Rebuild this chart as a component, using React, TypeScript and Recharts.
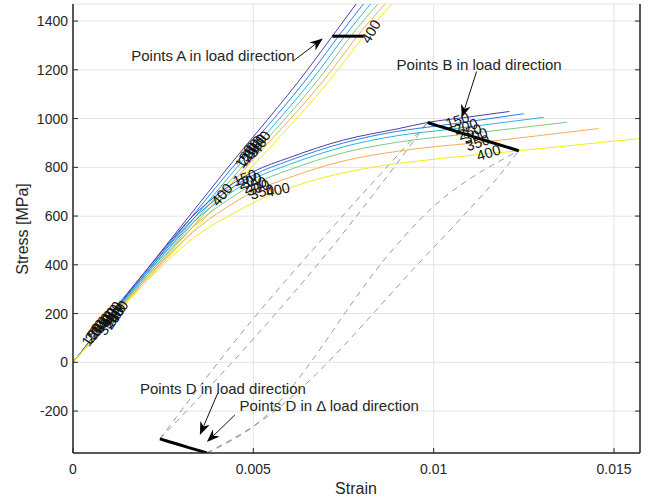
import { ComposedChart, Line, Scatter, XAxis, YAxis, CartesianGrid, ReferenceLine, Customized } from 'recharts'

const W = 649
const H = 499

const temps = ['150', '200', '250', '300', '350', '400']
const curveColors = ['#4a3fa6', '#2b7ef0', '#2ab6d6', '#80c97e', '#f6ad57', '#f2ee12']

const xTicks = [0, 0.005, 0.01, 0.015]
const yTicks = [-200, 0, 200, 400, 600, 800, 1000, 1200, 1400]

// steep branch: strain reached at each stress level, one row per temperature
const steepStress = [0, 400, 800, 1200, 1338, 1470]
const steepStrain = [
  [0, 0.00215, 0.0043, 0.0065, 0.00719, 0.00785],
  [0, 0.0022, 0.00442, 0.00667, 0.00736, 0.00805],
  [0, 0.00226, 0.00455, 0.00684, 0.00753, 0.00825],
  [0, 0.00232, 0.00468, 0.00701, 0.0077, 0.00845],
  [0, 0.00238, 0.0048, 0.00718, 0.00788, 0.00865],
  [0, 0.00245, 0.00495, 0.00735, 0.00806, 0.00885],
]

// stress-strain curves, one row per temperature
const curveStrain = [
  [0, 0.002, 0.0035, 0.0045, 0.005, 0.006, 0.0075, 0.009, 0.00983, 0.011, 0.0121],
  [0, 0.002, 0.0035, 0.0045, 0.005, 0.006, 0.0075, 0.009, 0.01012, 0.0125],
  [0, 0.002, 0.0035, 0.0045, 0.005, 0.006, 0.0075, 0.009, 0.01044, 0.01305],
  [0, 0.002, 0.0035, 0.0045, 0.005, 0.006, 0.0075, 0.009, 0.01087, 0.0137],
  [0, 0.002, 0.0035, 0.0045, 0.005, 0.006, 0.0075, 0.009, 0.01152, 0.01457],
  [0, 0.002, 0.0035, 0.0045, 0.005, 0.006, 0.007, 0.0085, 0.01, 0.01236, 0.01572],
]
const curveStress = [
  [0, 372, 625, 740, 782, 840, 912, 958, 984, 1007, 1029],
  [0, 362, 612, 725, 768, 828, 900, 948, 970, 1020],
  [0, 354, 597, 708, 752, 812, 884, 930, 956, 1005],
  [0, 345, 578, 686, 730, 790, 860, 903, 936, 985],
  [0, 336, 556, 658, 700, 758, 826, 866, 906, 959],
  [0, 326, 528, 615, 655, 715, 760, 805, 833, 868, 918],
]

// points A, B and D
const aStrain = [0.00719, 0.00736, 0.00753, 0.0077, 0.00788, 0.00806]
const aStress = [1338, 1338, 1338, 1338, 1338, 1338]
const bStrain = [0.00983, 0.01012, 0.01044, 0.01087, 0.01152, 0.01236]
const bStress = [984, 970, 956, 936, 906, 868]
const dStrain = [0.00241, 0.00267, 0.00293, 0.00319, 0.00345, 0.00371]
const dStress = [-314, -326, -337, -349, -360, -372]

// hysteresis branches D -> B for 150 and 400 (two variants each)
const loop150aStrain = [0.00241, 0.004903, 0.006648, 0.00983]
const loop150aStress = [-314, 162, 462, 984]
const loop150bStrain = [0.00241, 0.004903, 0.007119, 0.00983]
const loop150bStress = [-314, 80, 462, 984]
const loop400aStrain = [0.00371, 0.004986, 0.008864, 0.009612, 0.01236]
const loop400aStress = [-372, -265, 462, 585, 868]
const loop400bStrain = [0.00371, 0.005263, 0.009806, 0.01072, 0.012022, 0.01236]
const loop400bStress = [-372, -236, 441, 585, 803, 868]

// temperature tags written along the curves
const tagText = [
  '150', '200', '250', '300', '350', '400', '150', '200', '250', '300', '350', '400',
  '150', '200', '250', '300', '350', '400',
  '400', '150', '200', '250', '300', '350', '400',
  '150', '200', '250', '300', '350', '400',
  '400',
]
const tagStrain = [
  0.000526, 0.00061, 0.000693, 0.000776, 0.000859, 0.00094, 0.00102, 0.00108, 0.00114, 0.00119, 0.00097, 0.00125,
  0.004764, 0.004847, 0.00493, 0.005014, 0.005097, 0.005208,
  0.00413, 0.00476, 0.0049, 0.00504, 0.00512, 0.00524, 0.00568,
  0.01066, 0.01089, 0.011, 0.01116, 0.01122, 0.01152,
  0.00826,
]
const tagStress = [
  113, 129, 142, 154, 166, 179, 191, 203, 183, 195, 158, 207,
  844, 856, 869, 881, 889, 901,
  688, 757, 745, 728, 716, 700, 708,
  992, 967, 946, 930, 901, 860,
  1357,
]
const tagAngle = [
  -55, -55, -55, -55, -55, -55, -55, -55, -55, -55, -55, -55,
  -60, -60, -60, -60, -60, -60,
  -50, -20, -20, -20, -20, -15, -12,
  -18, -18, -18, -18, -18, -18,
  -60,
]

const noteText = [
  'Points A in load direction',
  'Points B in load direction',
  'Points D in load direction',
  'Points D in \u0394 load direction',
]
const noteStrain = [0.00388, 0.01126, 0.004155, 0.007105]
const noteStress = [1259, 1222, -109, -179]

// arrows: tail then tip
const arrowSegments = [
  [{ x: 0.006094, y: 1235 }, { x: 0.006925, y: 1328 }],
  [{ x: 0.01119, y: 1193 }, { x: 0.01078, y: 1004 }],
  [{ x: 0.004017, y: -125 }, { x: 0.003518, y: -298 }],
  [{ x: 0.004487, y: -216 }, { x: 0.003712, y: -327 }],
]

const zip = (xs: number[], ys: number[]) => xs.map((x, i) => ({ x, y: ys[i] }))

const steepSeries = steepStrain.map((row) => zip(row, steepStress))
const curveSeries = curveStrain.map((row, i) => zip(row, curveStress[i]))
const loopSeries = [
  zip(loop150aStrain, loop150aStress),
  zip(loop150bStrain, loop150bStress),
  zip(loop400aStrain, loop400aStress),
  zip(loop400bStrain, loop400bStress),
]
const tags = tagText.map((text, i) => ({ x: tagStrain[i], y: tagStress[i], text, angle: tagAngle[i] }))
const notes = noteText.map((text, i) => ({ x: noteStrain[i], y: noteStress[i], text }))

const FONT = '"Liberation Sans", Arial, Helvetica, sans-serif'
const AXIS = '#262626'

function Arrow(props: any) {
  const { x1, y1, x2, y2 } = props
  const dx = x2 - x1
  const dy = y2 - y1
  const len = Math.hypot(dx, dy) || 1
  const ux = dx / len
  const uy = dy / len
  const hl = 13
  const hw = 5
  const bx = x2 - ux * hl
  const by = y2 - uy * hl
  const nx = x2 - ux * hl * 0.7
  const ny = y2 - uy * hl * 0.7
  const pts = `${x2},${y2} ${bx - uy * hw},${by + ux * hw} ${nx},${ny} ${bx + uy * hw},${by - ux * hw}`
  return (
    <g>
      <line x1={x1} y1={y1} x2={nx} y2={ny} stroke="#111" strokeWidth={1} />
      <polygon points={pts} fill="#000" />
    </g>
  )
}

function TagShape(props: any) {
  const { cx, cy, payload } = props
  return (
    <text
      x={cx}
      y={cy}
      transform={`rotate(${payload.angle} ${cx} ${cy})`}
      textAnchor="middle"
      dominantBaseline="central"
      fontSize={14.5}
      fontFamily={FONT}
      fill="#111"
    >
      {payload.text}
    </text>
  )
}

function NoteShape(props: any) {
  const { cx, cy, payload } = props
  return (
    <text x={cx} y={cy} textAnchor="middle" dominantBaseline="central" fontSize={15} fontFamily={FONT} fill={AXIS}>
      {payload.text}
    </text>
  )
}

function AxisTitles() {
  return (
    <g fontFamily={FONT} fill={AXIS} fontSize={16}>
      <text x={356} y={488} textAnchor="middle" dominantBaseline="central">
        Strain
      </text>
      <text transform="translate(22,229) rotate(-90)" textAnchor="middle" dominantBaseline="central">
        Stress [MPa]
      </text>
    </g>
  )
}

const blankTick = () => <g />
const frame = { stroke: AXIS, strokeWidth: 1.5 }

export default function App() {
  return (
    <div style={{ position: 'absolute', left: 0, top: 0, width: W, height: H, background: '#fff', fontFamily: FONT }}>
      <ComposedChart width={W} height={H} margin={{ top: 4, right: 0, bottom: 0, left: 0 }}>
        <CartesianGrid stroke="#e3e3e3" />
        <XAxis
          dataKey="x"
          type="number"
          domain={[0, 0.01572]}
          ticks={xTicks}
          interval={0}
          allowDataOverflow
          height={46}
          tickSize={-5}
          tickMargin={16}
          axisLine={frame}
          tickLine={{ stroke: AXIS }}
          tick={{ fill: AXIS, fontSize: 14 }}
        />
        <XAxis
          xAxisId="top"
          orientation="top"
          type="number"
          domain={[0, 0.01572]}
          ticks={xTicks}
          interval={0}
          allowDataOverflow
          height={0}
          tickSize={-5}
          axisLine={frame}
          tickLine={{ stroke: AXIS }}
          tick={blankTick}
        />
        <YAxis
          dataKey="y"
          type="number"
          domain={[-372, 1470]}
          ticks={yTicks}
          interval={0}
          allowDataOverflow
          width={73}
          tickSize={-5}
          tickMargin={10}
          axisLine={frame}
          tickLine={{ stroke: AXIS }}
          tick={{ fill: AXIS, fontSize: 14 }}
        />
        <YAxis
          yAxisId="right"
          orientation="right"
          type="number"
          domain={[-372, 1470]}
          ticks={yTicks}
          interval={0}
          allowDataOverflow
          width={9}
          tickSize={-5}
          axisLine={frame}
          tickLine={{ stroke: AXIS }}
          tick={blankTick}
        />

        {loopSeries.map((d, i) => (
          <Line
            key={'loop' + i}
            data={d}
            dataKey="y"
            type="monotone"
            stroke="#808080"
            strokeWidth={0.8}
            strokeDasharray="6 5"
            dot={false}
            activeDot={false}
            isAnimationActive={false}
          />
        ))}
        {steepSeries.map((d, i) => (
          <Line
            key={'s' + temps[i]}
            data={d}
            dataKey="y"
            type="monotone"
            stroke={curveColors[i]}
            strokeWidth={1}
            dot={false}
            activeDot={false}
            isAnimationActive={false}
          />
        ))}
        {curveSeries.map((d, i) => (
          <Line
            key={'c' + temps[i]}
            data={d}
            dataKey="y"
            type="monotone"
            stroke={curveColors[i]}
            strokeWidth={1}
            dot={false}
            activeDot={false}
            isAnimationActive={false}
          />
        ))}
        <Line data={zip(aStrain, aStress)} dataKey="y" stroke="#000" strokeWidth={3} dot={false} activeDot={false} isAnimationActive={false} />
        <Line data={zip(bStrain, bStress)} dataKey="y" stroke="#000" strokeWidth={3} dot={false} activeDot={false} isAnimationActive={false} />
        <Line data={zip(dStrain, dStress)} dataKey="y" stroke="#000" strokeWidth={3} dot={false} activeDot={false} isAnimationActive={false} />

        <Scatter data={tags} dataKey="y" shape={TagShape} isAnimationActive={false} />
        <Scatter data={notes} dataKey="y" shape={NoteShape} isAnimationActive={false} />

        {arrowSegments.map((seg, i) => (
          <ReferenceLine key={'a' + i} segment={seg} shape={Arrow} ifOverflow="visible" />
        ))}

        <Customized component={AxisTitles} />
      </ComposedChart>
    </div>
  )
}
